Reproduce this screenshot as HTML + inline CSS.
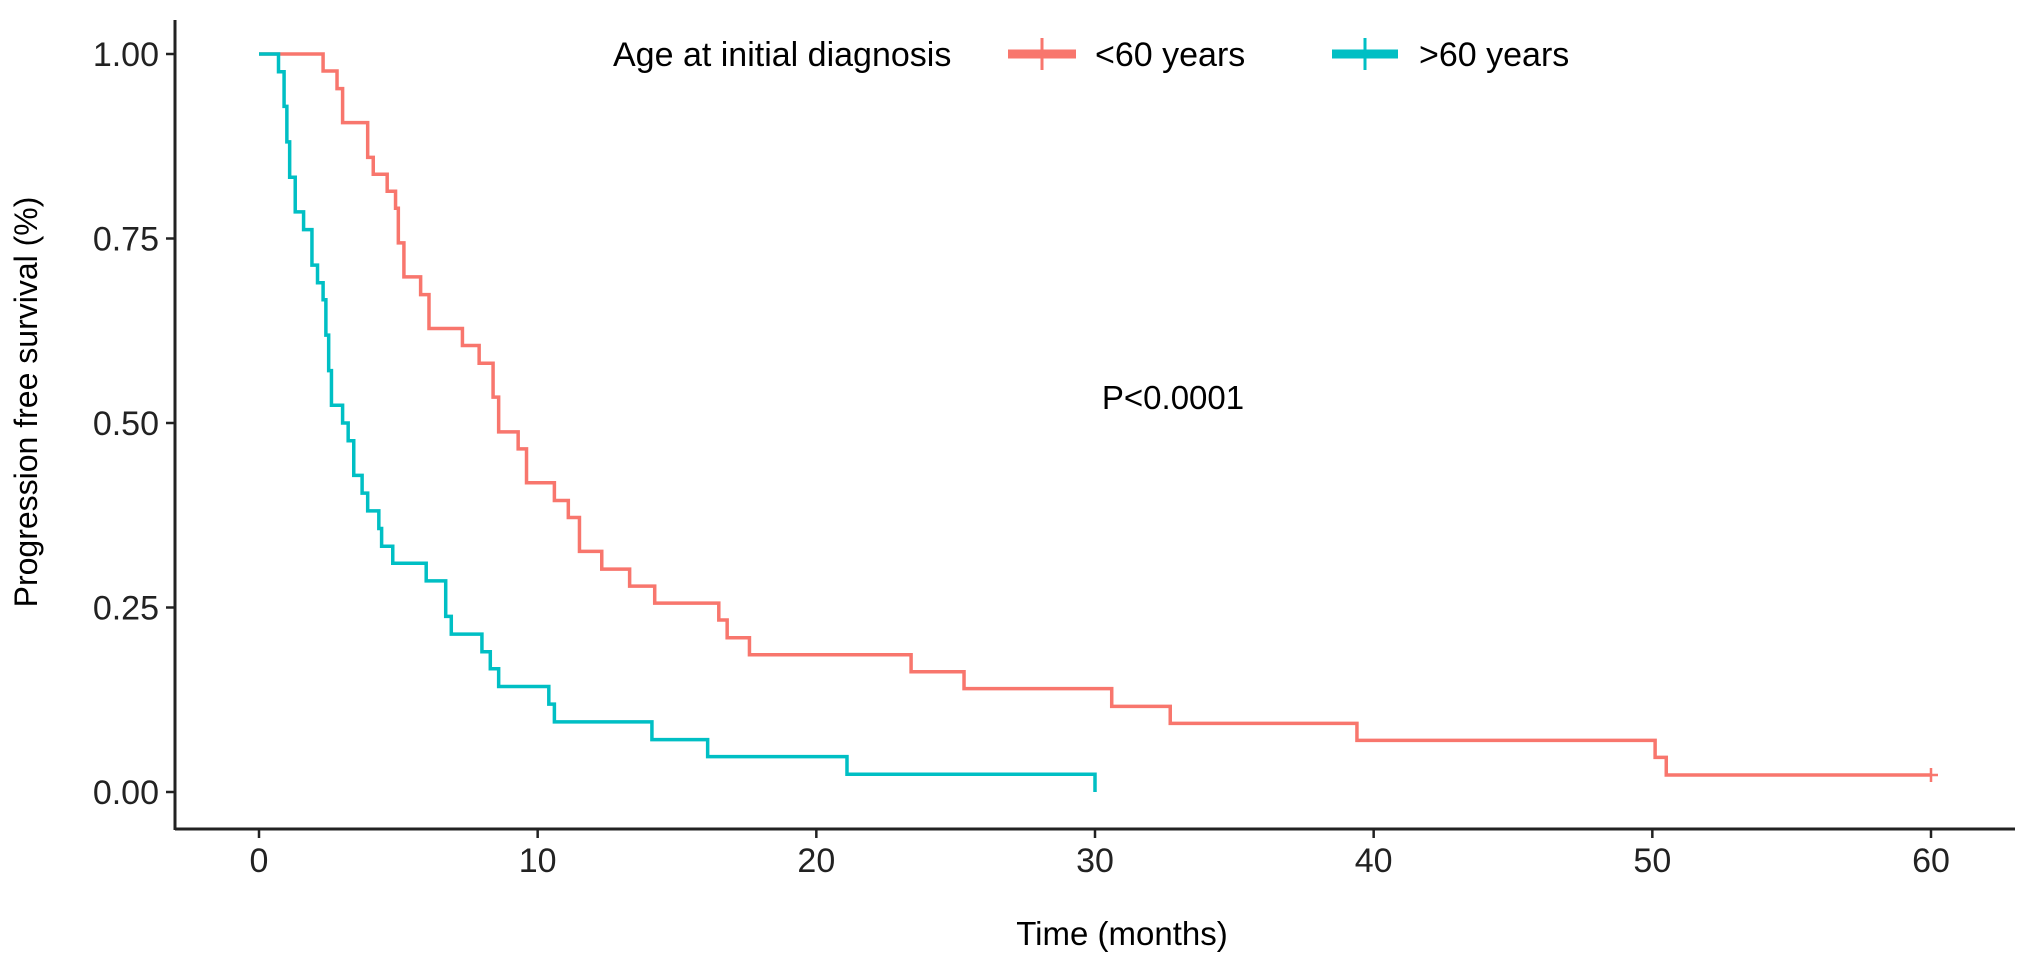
<!DOCTYPE html>
<html><head><meta charset="utf-8"><style>
body{margin:0;background:#fff}
svg{display:block;font-family:"Liberation Sans",sans-serif}
</style></head><body>
<svg id="chart" width="2032" height="976" viewBox="0 0 2032 976">
<g id="axes"></g>
<g id="series"></g>
<text x="1173" y="409" font-size="33" text-anchor="middle">P&lt;0.0001</text>
<text x="1122" y="945" font-size="33" text-anchor="middle">Time (months)</text>
<text transform="translate(37,402) rotate(-90)" font-size="32" text-anchor="middle">Progression free survival (%)</text>
<g>
<text x="613" y="66" font-size="34">Age at initial diagnosis</text>
<g>
<line x1="1008" y1="54" x2="1076" y2="54" stroke="#F8766D" stroke-width="9"/>
<line x1="1042" y1="38" x2="1042" y2="70" stroke="#F8766D" stroke-width="3"/>
<text x="1095" y="66" font-size="34">&lt;60 years</text></g>
<g>
<line x1="1332" y1="54" x2="1398" y2="54" stroke="#00BFC4" stroke-width="9"/>
<line x1="1365" y1="38" x2="1365" y2="70" stroke="#00BFC4" stroke-width="3"/>
<text x="1419" y="66" font-size="34">&gt;60 years</text></g>
</g>
</svg>
<script>
const xTicks=[0,10,20,30,40,50,60];
const yTicks=[0,0.25,0.5,0.75,1];
const yTickLabels=["0.00","0.25","0.50","0.75","1.00"];
const redTimes=[0,2.3,2.8,3.0,3.9,4.1,4.6,4.9,5.0,5.2,5.8,6.1,7.3,7.9,8.4,8.6,9.3,9.6,10.6,11.1,11.5,12.3,13.3,14.2,16.5,16.8,17.6,23.4,25.3,30.6,32.7,39.4,50.1,50.5,60];
const redSurv=[1,0.977,0.953,0.907,0.860,0.837,0.814,0.791,0.744,0.698,0.674,0.628,0.605,0.581,0.535,0.488,0.465,0.419,0.395,0.372,0.326,0.302,0.279,0.256,0.233,0.209,0.186,0.163,0.140,0.116,0.093,0.070,0.047,0.023,0.023];
const tealTimes=[0,0.7,0.9,1.0,1.1,1.3,1.6,1.9,2.1,2.3,2.4,2.5,2.6,3.0,3.2,3.4,3.7,3.9,4.3,4.4,4.8,6.0,6.7,6.9,8.0,8.3,8.6,10.4,10.6,14.1,16.1,21.1,30,30];
const tealSurv=[1,0.976,0.929,0.881,0.833,0.786,0.762,0.714,0.690,0.667,0.619,0.571,0.524,0.5,0.476,0.429,0.405,0.381,0.357,0.333,0.310,0.286,0.238,0.214,0.190,0.167,0.143,0.119,0.095,0.071,0.048,0.024,0.024,0];
const NS='http://www.w3.org/2000/svg';
const X=t=>259+t*(1931-259)/60;
const Y=s=>792-s*(792-54);
function mk(tag,at,par){const e=document.createElementNS(NS,tag);for(const k in at)e.setAttribute(k,at[k]);par.appendChild(e);return e;}
const ax=document.getElementById('axes');
const xl=mk('line',{x1:175,y1:829,x2:2015,y2:829,stroke:'#222','stroke-width':3},ax);


const yl=mk('line',{x1:175,y1:20,x2:175,y2:830,stroke:'#222','stroke-width':3},ax);


xTicks.forEach(v=>{
 mk('line',{x1:X(v),y1:829,x2:X(v),y2:838,stroke:'#222','stroke-width':2.5},ax);
 const t=mk('text',{x:X(v),y:872,'font-size':34,'text-anchor':'middle',fill:'#222'},ax);t.textContent=v;
 
 
});
yTicks.forEach((v,i)=>{
 mk('line',{x1:166,y1:Y(v),x2:175,y2:Y(v),stroke:'#222','stroke-width':2.5},ax);
 const t=mk('text',{x:159,y:Y(v)+12,'font-size':34,'text-anchor':'end',fill:'#222'},ax);t.textContent=yTickLabels[i];
 
 
});
function step(ts,ss){let d='M'+X(ts[0])+','+Y(ss[0]);for(let i=1;i<ts.length;i++){d+='H'+X(ts[i])+'V'+Y(ss[i]);}return d;}
const sg=document.getElementById('series');
const r=mk('path',{d:step(redTimes,redSurv),fill:'none',stroke:'#F8766D','stroke-width':3.5},sg);


const c=mk('path',{d:step(tealTimes,tealSurv),fill:'none',stroke:'#00BFC4','stroke-width':3.5},sg);


const lt=redTimes[redTimes.length-1],ls=redSurv[redSurv.length-1];
const cm=mk('path',{d:'M'+(X(lt)-7)+','+Y(ls)+'h14M'+X(lt)+','+(Y(ls)-7)+'v14',stroke:'#F8766D','stroke-width':2.5},sg);


</script>
</body></html>
